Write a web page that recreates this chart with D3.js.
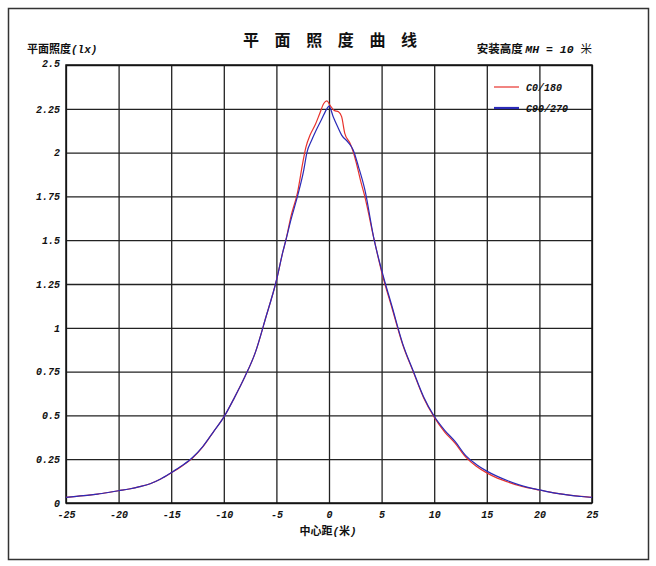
<!DOCTYPE html>
<html>
<head>
<meta charset="utf-8">
<script src="https://cdn.jsdelivr.net/npm/d3@7"></script>
<style>
body { margin: 0; background: #fff; }
.tick text { font-family: "Liberation Mono", "DejaVu Sans Mono", monospace; font-weight: bold; font-style: italic; font-size: 10px; fill: #111; }
.cjk { font-family: "Noto Sans CJK SC", sans-serif; fill: #111; }
.mono { font-family: "Liberation Mono", monospace; font-weight: bold; font-style: italic; }
</style>
</head>
<body>
<div id="chart"></div>
<script>
///////////////////////////// DATA /////////////////////////////////////

xTicks = [-25, -20, -15, -10, -5, 0, 5, 10, 15, 20, 25];
yTicks = [0, 0.25, 0.5, 0.75, 1, 1.25, 1.5, 1.75, 2, 2.25, 2.5];

seriesNames = ["C0/180", "C90/270"];

// C0/180 (red)
c0X = [-25, -24, -23, -22, -21, -20, -19, -18, -17, -16, -15, -14, -13, -12, -11, -10, -9, -8, -7, -6, -5,
    -4.4, -4.1, -3.6, -3.0, -2.5, -2.2, -1.8, -1.3, -0.9, -0.5, -0.2, 0.1, 0.5, 0.9, 1.2, 1.5, 2.0, 2.3, 2.6,
    3.0, 3.4, 4.3, 5, 6, 7, 8, 9, 10, 11, 12, 13, 14, 15, 16, 17, 18, 19, 20, 21, 22, 23, 24, 25];
c0Y = [0.032, 0.038, 0.044, 0.051, 0.060, 0.070, 0.080, 0.093, 0.110, 0.137, 0.172, 0.210, 0.255, 0.320, 0.405, 0.490, 0.600, 0.720, 0.860, 1.060, 1.270,
    1.430, 1.500, 1.640, 1.770, 1.940, 2.030, 2.100, 2.160, 2.220, 2.280, 2.295, 2.270, 2.240, 2.233, 2.205, 2.110, 2.053, 2.005, 1.940,
    1.840, 1.750, 1.500, 1.320, 1.110, 0.905, 0.750, 0.600, 0.490, 0.405, 0.340, 0.262, 0.210, 0.172, 0.142, 0.120, 0.100, 0.086, 0.074, 0.062, 0.052, 0.044, 0.038, 0.032];

// C90/270 (blue)
c90X = [-25, -24, -23, -22, -21, -20, -19, -18, -17, -16, -15, -14, -13, -12, -11, -10, -9, -8, -7, -6, -5,
    -4.4, -4.1, -3.6, -3.0, -2.4, -2.1, -1.65, -1.2, -0.7, -0.2, 0, 0.4, 0.8, 1.2, 1.8, 2.3, 2.8,
    3.4, 4.3, 5, 6, 7, 8, 9, 10, 11, 12, 13, 14, 15, 16, 17, 18, 19, 20, 21, 22, 23, 24, 25];
c90Y = [0.032, 0.038, 0.044, 0.051, 0.060, 0.070, 0.080, 0.093, 0.110, 0.137, 0.173, 0.212, 0.258, 0.322, 0.405, 0.490, 0.600, 0.720, 0.860, 1.060, 1.270,
    1.430, 1.500, 1.620, 1.750, 1.900, 2.000, 2.070, 2.130, 2.190, 2.250, 2.265, 2.205, 2.150, 2.100, 2.060, 2.015, 1.920,
    1.790, 1.500, 1.330, 1.120, 0.910, 0.755, 0.605, 0.495, 0.415, 0.350, 0.270, 0.220, 0.182, 0.152, 0.127, 0.105, 0.088, 0.075, 0.062, 0.052, 0.043, 0.037, 0.032];

colors = ["#e8322c", "#2a2ab8"];

///////////////////////////// CHART OPTIONS /////////////////////////////////////

width = 656;
height = 566;

plotLeft = 66;
plotRight = 592;
plotTop = 65;
plotBottom = 503;

xScale = d3.scaleLinear().domain([-25, 25]).range([plotLeft, plotRight]);
yScale = d3.scaleLinear().domain([0, 2.5]).range([plotBottom, plotTop]);

svg = d3.select("#chart").append("svg")
    .attr("width", width)
    .attr("height", height);

// outer frame
svg.append("rect")
    .attr("x", 8.5)
    .attr("y", 8.5)
    .attr("width", 640)
    .attr("height", 551)
    .attr("fill", "#fff")
    .attr("stroke", "#333")
    .attr("stroke-width", 1.5);

// grid + axes
xAxis = d3.axisBottom(xScale)
    .tickValues(xTicks)
    .tickFormat(d => String(d))
    .tickSize(-(plotBottom - plotTop))
    .tickPadding(8);

yAxis = d3.axisLeft(yScale)
    .tickValues(yTicks)
    .tickFormat(d => String(d))
    .tickSize(-(plotRight - plotLeft))
    .tickPadding(6);

gx = svg.append("g")
    .attr("transform", `translate(0, ${plotBottom})`)
    .call(xAxis);

gy = svg.append("g")
    .attr("transform", `translate(${plotLeft}, 0)`)
    .call(yAxis);

[gx, gy].forEach(function(g) {
    g.select(".domain").remove();
    g.selectAll(".tick line")
        .attr("stroke", "#222")
        .attr("stroke-width", 1.3);
});

// top label sits a little above its line
gy.selectAll(".tick text")
    .filter(d => d == 2.5)
    .attr("dy", "0.1em");

svg.append("rect")
    .attr("x", plotLeft)
    .attr("y", plotTop)
    .attr("width", plotRight - plotLeft)
    .attr("height", plotBottom - plotTop)
    .attr("fill", "none")
    .attr("stroke", "#111")
    .attr("stroke-width", 1.5);

///////////////////////////// TEXTS /////////////////////////////////////

svg.append("text")
    .attr("class", "cjk")
    .attr("x", 333)
    .attr("y", 46)
    .attr("text-anchor", "middle")
    .style("font-size", "16px")
    .style("font-weight", "bold")
    .style("letter-spacing", "6px")
    .text("平 面 照 度 曲 线");

yLabel = svg.append("text")
    .attr("class", "cjk")
    .attr("x", 27)
    .attr("y", 53)
    .style("font-size", "11px")
    .style("font-weight", "bold");
yLabel.append("tspan").text("平面照度");
yLabel.append("tspan").attr("class", "mono").text("(lx)");

mhLabel = svg.append("text")
    .attr("class", "cjk")
    .attr("x", 592)
    .attr("y", 53)
    .attr("text-anchor", "end")
    .style("font-size", "11.5px")
    .style("font-weight", "bold");
mhLabel.append("tspan").text("安装高度 ");
mhLabel.append("tspan").attr("class", "mono").text("MH = 10 ");
mhLabel.append("tspan").style("font-weight", "normal").text("米");

xLabel = svg.append("text")
    .attr("class", "cjk")
    .attr("x", 328)
    .attr("y", 535)
    .attr("text-anchor", "middle")
    .style("font-size", "11px")
    .style("font-weight", "bold");
xLabel.append("tspan").text("中心距");
xLabel.append("tspan").attr("class", "mono").text("(");
xLabel.append("tspan").text("米");
xLabel.append("tspan").attr("class", "mono").text(")");

///////////////////////////// LINES /////////////////////////////////////

seriesData = [
    c0X.map((x, i) => ({ x: x, v: c0Y[i] })),
    c90X.map((x, i) => ({ x: x, v: c90Y[i] }))
];

line = d3.line()
    .x(d => xScale(d.x))
    .y(d => yScale(d.v))
    .curve(d3.curveMonotoneX);

svg.append("g")
    .selectAll("path")
    .data(seriesData).enter()
    .append("path")
    .attr("d", d => line(d))
    .attr("fill", "none")
    .attr("stroke", (d, i) => colors[i])
    .attr("stroke-width", 1.2);

// legend
legendY = [87, 108];
legend = svg.append("g")
    .selectAll("g")
    .data(seriesNames).enter()
    .append("g");

legend.append("line")
    .attr("x1", 494)
    .attr("x2", 519)
    .attr("y1", (d, i) => legendY[i])
    .attr("y2", (d, i) => legendY[i])
    .attr("stroke", (d, i) => colors[i])
    .attr("stroke-width", (d, i) => i == 0 ? 1.2 : 2.2);

legend.append("text")
    .attr("class", "mono")
    .attr("x", 526)
    .attr("y", (d, i) => legendY[i] + 3.5)
    .style("font-size", "10px")
    .attr("fill", "#111")
    .text(d => d);
</script>
</body>
</html>
